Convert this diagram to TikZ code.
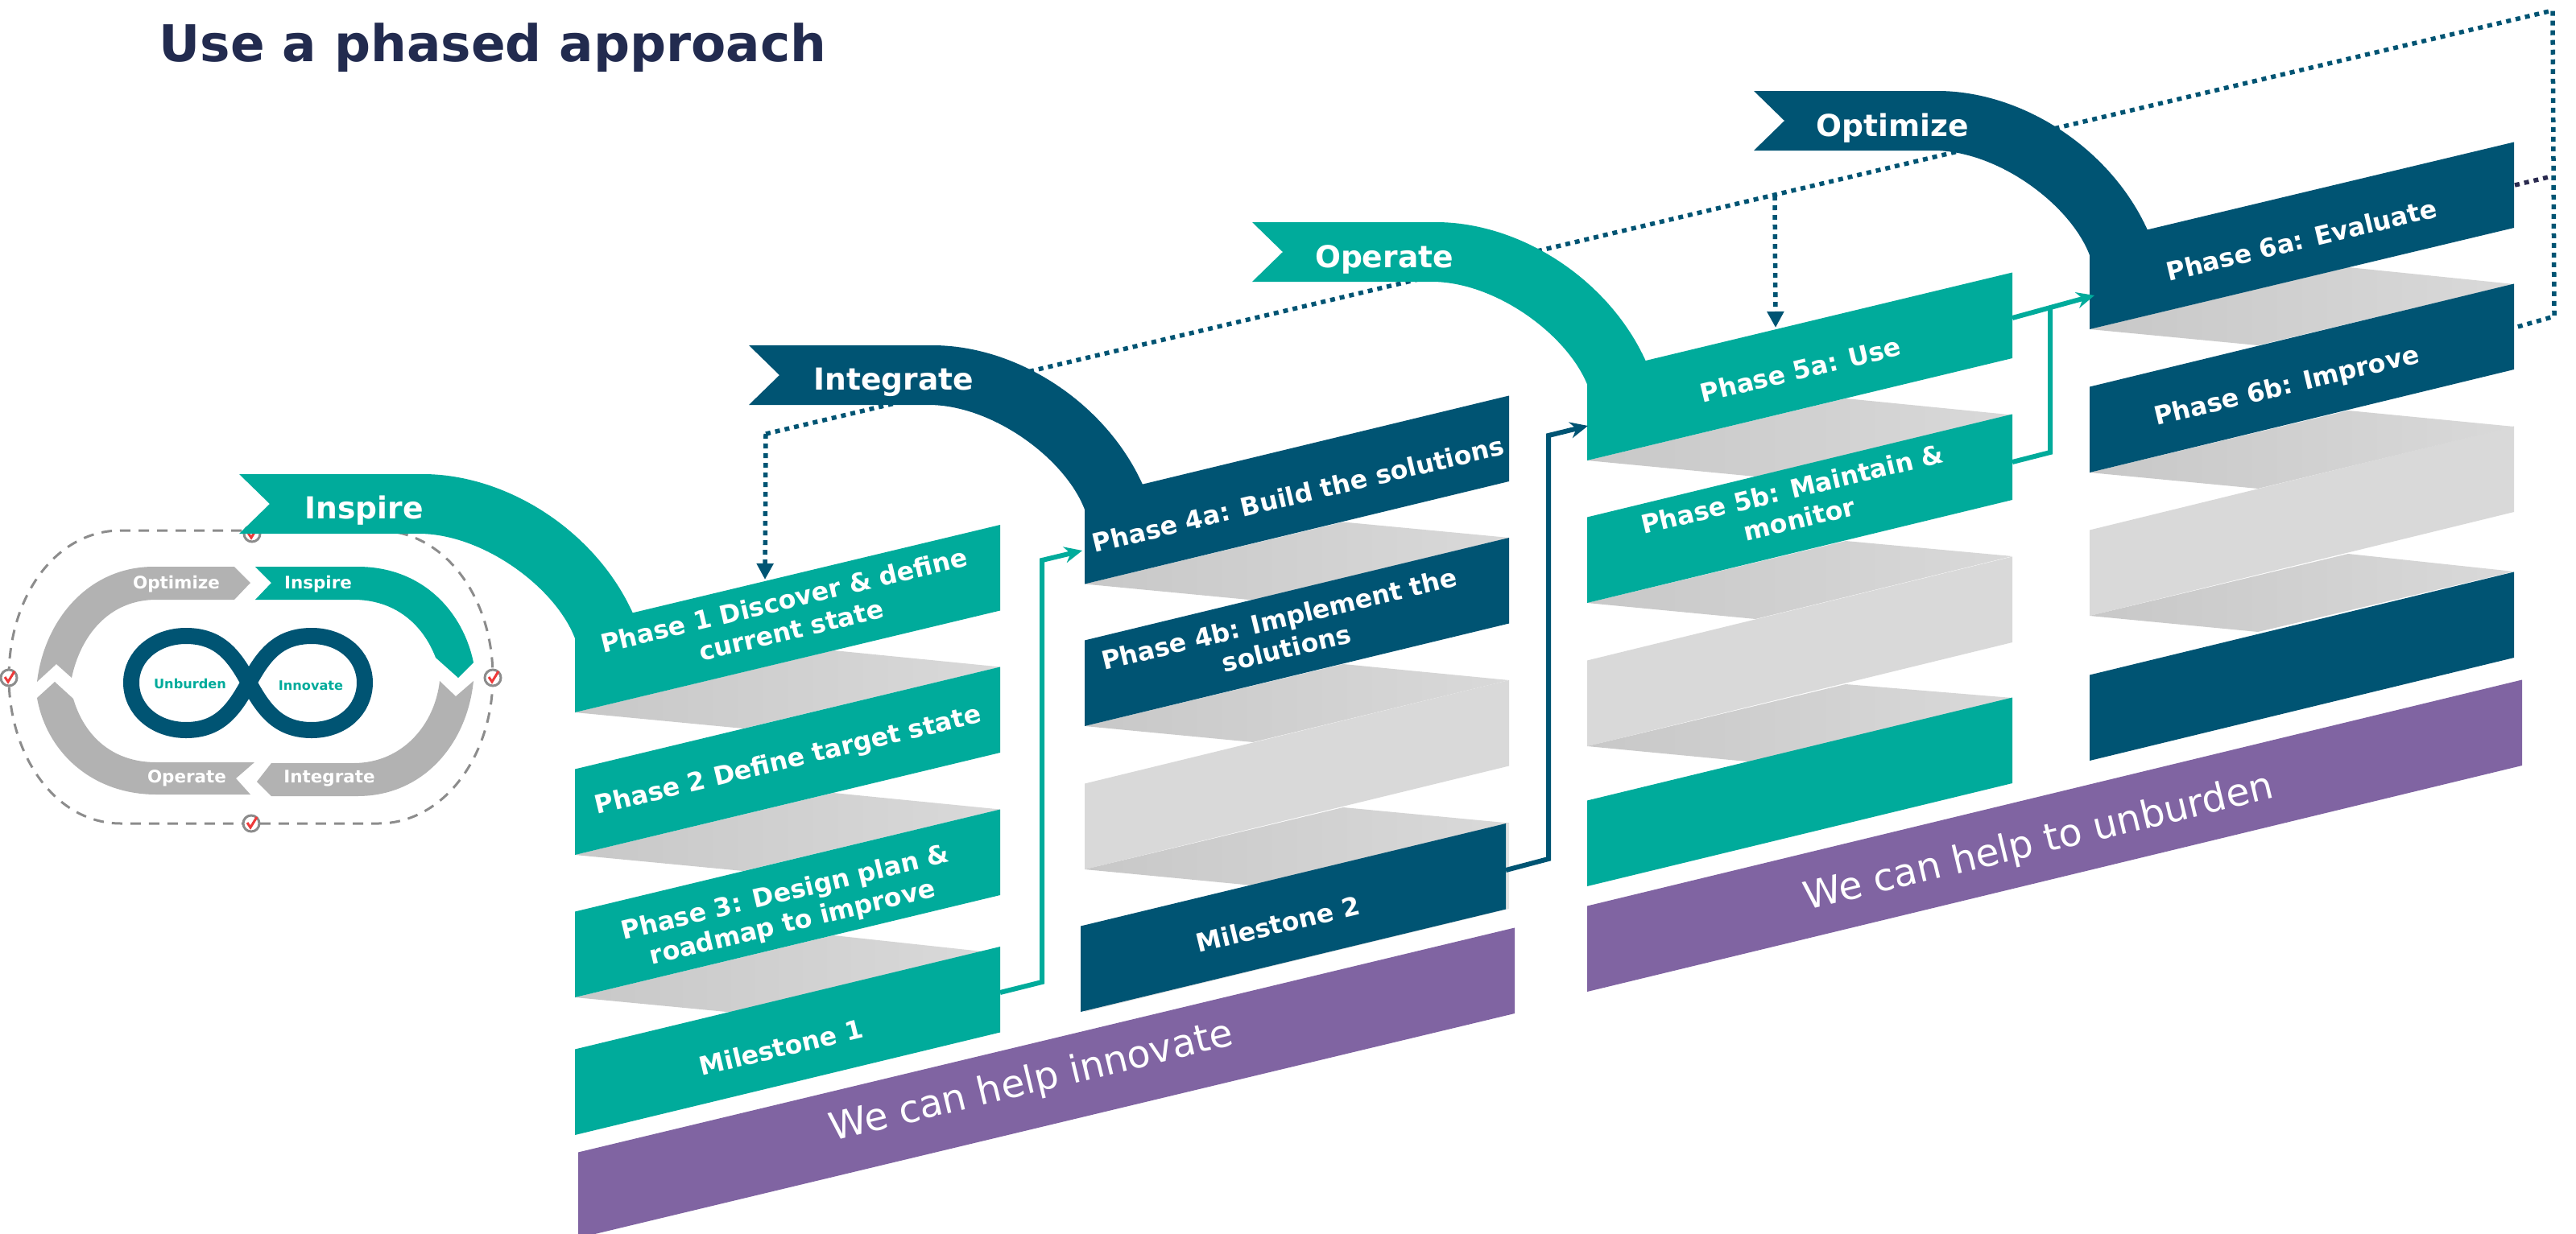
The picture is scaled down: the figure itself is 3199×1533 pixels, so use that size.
\documentclass[tikz,border=0pt]{standalone}
\usepackage{fontspec}
\setmainfont{DejaVu Sans}
\usetikzlibrary{arrows.meta}

\definecolor{tealband}{HTML}{00AB9B}
\definecolor{navyband}{HTML}{005473}
\definecolor{purpleband}{HTML}{8064A2}
\definecolor{titlenavy}{HTML}{222B4F}
\definecolor{stubnavy}{HTML}{2A2A4F}
\definecolor{shadowlight}{HTML}{D9D9D9}
\definecolor{shadowdark}{HTML}{C8C8C8}
\definecolor{tickred}{HTML}{EE3A3A}

% band: color, left x, left bottom y, right x, right bottom y
\newcommand{\band}[5]{\fill[#1] (#2,#3) -- (#4,#5) -- (#4,#5-106.5) -- (#2,#3-106.5) -- cycle;}
% shadow under a band: left x, left bottom y, right x, y of next band's corner
\newcommand{\shadow}[4]{\shade[left color=shadowdark, middle color=shadowlight, right color=shadowlight]
  (#1,#2) -- (#1+321,#2-77) -- (#3,#4) -- (#1+209,#2+20) -- cycle;}
% swoosh that leads into the first band of a column
\newcommand{\swoosh}[3]{\fill[#3, shift={(#1,#2)}]
  (297,589) -- (525,589) .. controls (630,589) and (740,660) .. (786,762)
  -- (714,885) -- (714,793) .. controls (690,730) and (600,663) .. (520,663)
  -- (297,663) -- (335,626) -- cycle;}
% milestone tick on the dashed loop
\newcommand{\tickmark}[2]{
  \draw[draw=gray!90, line width=0.03cm, fill=white] (#1,#2) circle (0.1cm);
  \draw[tickred, line width=0.03cm] (#1-5,#2-1) -- (#1-1,#2+5) -- (#1+7,#2-8);}

\begin{document}
\begin{tikzpicture}[x=0.01cm, y=-0.01cm]
    \useasboundingbox (0,0) rectangle (3199,1533);
    \tikzset{
      phase/.style = {text=white, font=\fontsize{9}{10.8}\selectfont\bfseries, rotate=13.5, align=center},
      swooshlabel/.style = {text=white, font=\fontsize{10.7}{13}\selectfont\bfseries},
      looplabel/.style = {text=white, font=\fontsize{6.1}{7}\selectfont\bfseries},
      innerlabel/.style = {text=tealband, font=\fontsize{4.6}{6}\selectfont\bfseries},
      helplabel/.style = {text=white, font=\fontsize{13.5}{15}\selectfont, rotate=13.5},
      dotline/.style = {draw=navyband, line width=0.055cm, dash pattern=on 0.06cm off 0.06cm},
      dotarrow/.style = {dotline, -{Triangle[length=0.2cm, width=0.2cm, fill=navyband]}},
      tealline/.style = {draw=tealband, line width=0.06cm, -{Stealth[length=0.22cm, width=0.2cm]}},
      navyline/.style = {draw=navyband, line width=0.06cm, -{Stealth[length=0.22cm, width=0.2cm]}},
    }

    % Title
    \node[text=titlenavy, font=\fontsize{17.9}{20}\selectfont\bfseries] (title) at (612,59) {Use a phased approach};

    % Dashed loop and its ticks
    \draw[draw=gray!90, line width=0.03cm, dash pattern=on 0.13cm off 0.1cm]
      (11,841) .. controls (11,740) and (70,659) .. (150,659) -- (470,659)
      .. controls (550,659) and (612,740) .. (612,841)
      .. controls (612,940) and (550,1023) .. (470,1023) -- (150,1023)
      .. controls (70,1023) and (11,940) .. (11,841) -- cycle;
    \tickmark{11}{842}
    \tickmark{612}{842}
    \tickmark{313}{663}
    \tickmark{312}{1023}

    % Loop arrows
    \fill[gray!60] (311,724) -- (291,704) -- (191,704) .. controls (110,704) and (55,770) .. (46,847)
      -- (70,825) -- (89,842) .. controls (100,790) and (135,745) .. (194,745) -- (291,745) -- cycle;
    \fill[tealband] (317,704) -- (337,724) -- (317,745) -- (439,745) .. controls (490,745) and (525,775) .. (541,817)
      -- (569,842) -- (588,823) .. controls (575,760) and (525,704) .. (444,704) -- cycle;
    \fill[gray!60] (546,846) -- (566,865) -- (588,846) .. controls (580,925) and (525,989) .. (444,989)
      -- (337,989) -- (319,971) -- (337,948) -- (439,948) .. controls (500,948) and (540,900) .. (546,846) -- cycle;
    \fill[gray!60] (316,947) -- (293,967) -- (311,987) -- (194,987) .. controls (115,987) and (58,935) .. (46,867)
      -- (68,847) -- (91,868) .. controls (105,915) and (140,947) .. (194,947) -- cycle;
    \node[looplabel] (loopoptimize) at (219,726) {Optimize};
    \node[looplabel] (loopinspire) at (395,726) {Inspire};
    \node[looplabel] (loopoperate) at (232,967) {Operate};
    \node[looplabel] (loopintegrate) at (409,967) {Integrate};

    % Infinity
    \draw[navyband, line width=0.2cm]
      (309,848) .. controls (327,815) and (345,790) .. (387,790) .. controls (425,790) and (453,815) .. (453,848)
      .. controls (453,882) and (425,907) .. (387,907) .. controls (345,907) and (327,881) .. (309,848)
      .. controls (291,815) and (273,790) .. (231,790) .. controls (193,790) and (163,815) .. (163,848)
      .. controls (163,882) and (193,907) .. (231,907) .. controls (273,907) and (291,881) .. (309,848) -- cycle;
    \node[innerlabel] (unburden) at (236,849) {Unburden};
    \node[innerlabel] (innovate) at (386,852) {Innovate};

    % Dotted feedback lines
    \coordinate (startA) at (951,539);
    \coordinate (cornerA) at (3170,13);
    \coordinate (cornerB) at (3172,393);
    \coordinate (endB) at (3123,407);
    \coordinate (phaseonein) at (950,720);
    \coordinate (fiveajoin) at (2204,243);
    \coordinate (fiveain) at (2205,407);
    \draw[dotline] (startA) -- (cornerA) -- (cornerB) -- (endB);
    \draw[dotarrow] (startA) -- (phaseonein);
    \draw[dotarrow] (fiveajoin) -- (fiveain);
    \coordinate (stubleft) at (3123,230);
    \coordinate (stubright) at (3169,219);
    \draw[dotline, draw=stubnavy] (stubleft) -- (stubright);

    % Column 1
    \shadow{714}{885}{1242}{828.5}
    \shadow{714}{1062}{1242}{1005.5}
    \shadow{714}{1239}{1220}{1182}
    \band{tealband}{714}{885}{1242}{758.5}
    \band{tealband}{714}{1062}{1242}{935}
    \band{tealband}{714}{1239}{1242}{1112}
    \band{tealband}{714}{1410}{1242}{1282.5}
    \swoosh{0}{0}{tealband}
    \node[phase] (phaseone) at (978,764) {Phase 1 Discover \& define\\current state};
    \node[phase] (phasetwo) at (979,946) {Phase 2 Define target state};
    \node[phase] (phasethree) at (980,1129) {Phase 3: Design plan \&\\roadmap to improve};
    \node[phase] (milestoneone) at (970,1301) {Milestone 1};
    \node[swooshlabel] (inspire) at (452,634) {Inspire};

    % Column 2
    \band{shadowlight}{1347}{1080}{1874}{951.5}
    \fill[gray!22] (1347,1257) -- (1874,1129) -- (1874,1022) -- (1347,1150) -- cycle;
    \shadow{1347}{725.5}{1874}{668}
    \shadow{1347}{902}{1874}{845}
    \shadow{1347}{1080}{1874}{1022.5}
    \band{navyband}{1347}{725.5}{1874}{598}
    \band{navyband}{1347}{902}{1874}{774.5}
    \band{navyband}{1342}{1257}{1870}{1129.5}
    \swoosh{633}{-160}{navyband}
    \node[phase] (phasefoura) at (1612,614) {Phase 4a: Build the solutions};
    \node[phase] (phasefourb) at (1593,787) {Phase 4b: Implement the\\solutions};
    \node[phase] (milestonetwo) at (1587,1148) {Milestone 2};
    \node[swooshlabel] (integrate) at (1110,475) {Integrate};

    % Column 3
    \band{shadowlight}{1971}{927}{2499}{798}
    \shadow{1971}{572}{2499}{515.5}
    \shadow{1971}{749}{2499}{691}
    \shadow{1971}{927}{2499}{867}
    \band{tealband}{1971}{572}{2499}{445}
    \band{tealband}{1971}{749}{2499}{621}
    \band{tealband}{1971}{1101}{2499}{973}
    \swoosh{1258}{-313}{tealband}
    \node[phase] (phasefivea) at (2236,459) {Phase 5a: Use};
    \node[phase] (phasefiveb) at (2230,626) {Phase 5b: Maintain \&\\monitor};
    \node[swooshlabel] (operate) at (1719,322) {Operate};

    % Column 4
    \band{shadowlight}{2595}{765}{3122}{636}
    \shadow{2595}{409}{3122}{353}
    \shadow{2595}{587}{3122}{530}
    \shadow{2595}{765}{3122}{710}
    \band{navyband}{2595}{409}{3122}{283}
    \band{navyband}{2595}{587}{3122}{459}
    \band{navyband}{2595}{945}{3122}{817}
    \swoosh{1881}{-476}{navyband}
    \node[phase] (phasesixa) at (2858,298) {Phase 6a: Evaluate};
    \node[phase] (phasesixb) at (2840,481) {Phase 6b: Improve};
    \node[swooshlabel] (optimize) at (2350,159) {Optimize};

    % Help strips
    \band{purpleband}{718}{1538}{1881}{1259}
    \band{purpleband}{1971}{1232}{3132}{951}
    \node[helplabel] (helpinnovate) at (1281,1345) {We can help innovate};
    \node[helplabel] (helpunburden) at (2532,1048) {We can help to unburden};

    % Connectors
    \coordinate (milestoneoneout) at (1242,1233);
    \coordinate (milestoneonebend) at (1294,1220);
    \coordinate (foura) at (1294,696);
    \coordinate (fourain) at (1344,684);
    \draw[tealline] (milestoneoneout) -- (milestoneonebend) -- (foura) -- (fourain);

    \coordinate (milestonetwoout) at (1870,1081);
    \coordinate (milestonetwobend) at (1923,1067);
    \coordinate (fivea) at (1923,541);
    \coordinate (fivein) at (1972,529);
    \draw[navyline] (milestonetwoout) -- (milestonetwobend) -- (fivea) -- (fivein);

    \coordinate (fiveaout) at (2499,395);
    \coordinate (sixain) at (2601,367);
    \coordinate (fivebout) at (2499,574);
    \coordinate (fivebbend) at (2546,562);
    \coordinate (fivebup) at (2546,383);
    \draw[tealline] (fiveaout) -- (sixain);
    \draw[tealline, -] (fivebout) -- (fivebbend) -- (fivebup);
\end{tikzpicture}
\end{document}
